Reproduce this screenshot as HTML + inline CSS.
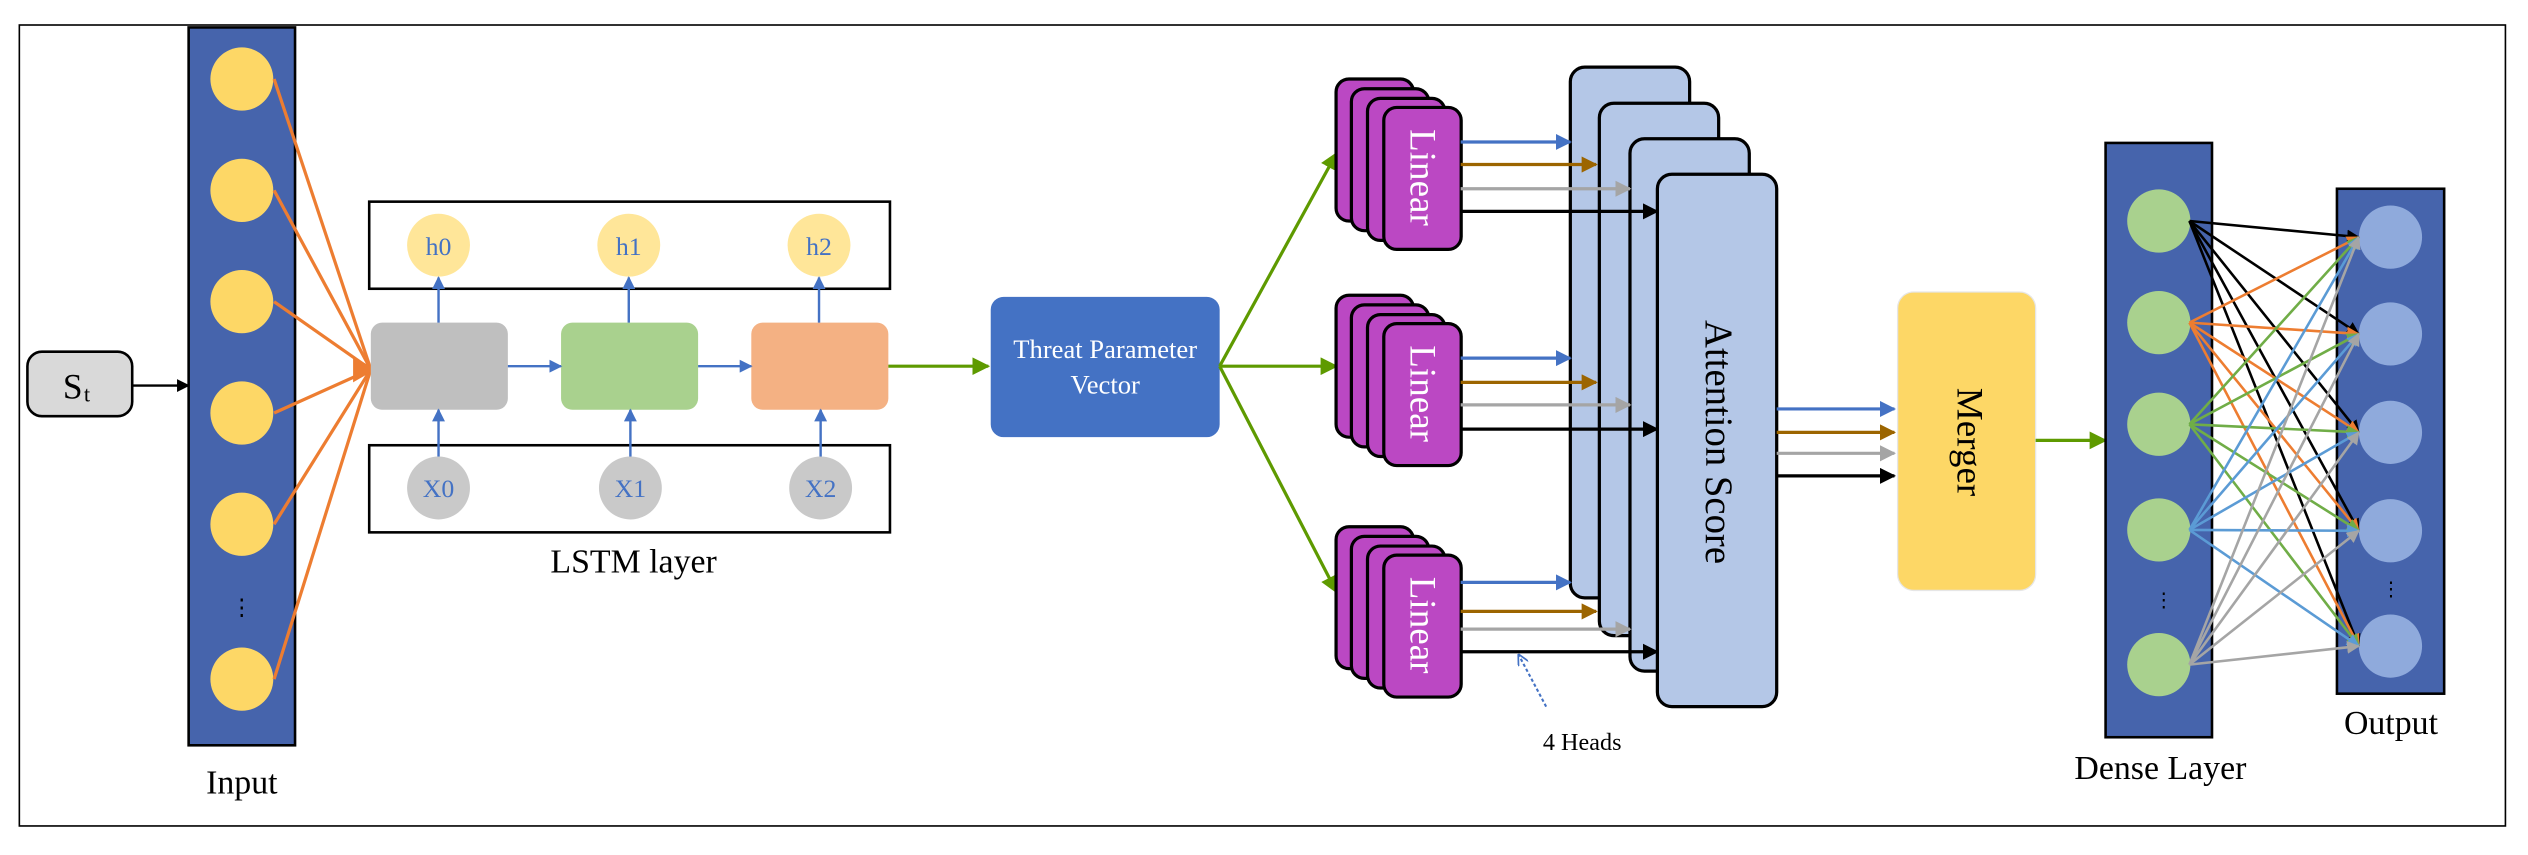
<!DOCTYPE html>
<html><head><meta charset="utf-8"><style>
html,body{margin:0;padding:0;background:#fff;}
svg{display:block;font-family:"Liberation Serif","Times New Roman",serif;}
svg text{font-family:"Liberation Serif","Times New Roman",serif;}
</style></head><body>
<svg width="2528" height="855" viewBox="0 0 1568 530" preserveAspectRatio="none" xmlns="http://www.w3.org/2000/svg" font-family="Liberation Serif, serif">
<defs>
<marker id="aBk" viewBox="0 0 10 10" refX="9" refY="5" markerWidth="10" markerHeight="10" orient="auto" markerUnits="userSpaceOnUse"><path d="M0,0L10,5L0,10z" fill="#000"/></marker>
<marker id="aBl" viewBox="0 0 10 10" refX="9" refY="5" markerWidth="10" markerHeight="10" orient="auto" markerUnits="userSpaceOnUse"><path d="M0,0L10,5L0,10z" fill="#4472c4"/></marker>
<marker id="aBr" viewBox="0 0 10 10" refX="9" refY="5" markerWidth="10" markerHeight="10" orient="auto" markerUnits="userSpaceOnUse"><path d="M0,0L10,5L0,10z" fill="#9c6500"/></marker>
<marker id="aGy" viewBox="0 0 10 10" refX="9" refY="5" markerWidth="10" markerHeight="10" orient="auto" markerUnits="userSpaceOnUse"><path d="M0,0L10,5L0,10z" fill="#a5a5a5"/></marker>
<marker id="aGn" viewBox="0 0 10 10" refX="9" refY="5" markerWidth="11" markerHeight="11" orient="auto" markerUnits="userSpaceOnUse"><path d="M0,0L10,5L0,10z" fill="#5e9a00"/></marker>
<marker id="sBk" viewBox="0 0 10 10" refX="9" refY="5" markerWidth="8" markerHeight="8" orient="auto" markerUnits="userSpaceOnUse"><path d="M0,0L10,5L0,10z" fill="#000"/></marker>
<marker id="sOr" viewBox="0 0 10 10" refX="9" refY="5" markerWidth="8" markerHeight="8" orient="auto" markerUnits="userSpaceOnUse"><path d="M0,0L10,5L0,10z" fill="#ed7d31"/></marker>
<marker id="sGn" viewBox="0 0 10 10" refX="9" refY="5" markerWidth="8" markerHeight="8" orient="auto" markerUnits="userSpaceOnUse"><path d="M0,0L10,5L0,10z" fill="#70ad47"/></marker>
<marker id="sBl" viewBox="0 0 10 10" refX="9" refY="5" markerWidth="8" markerHeight="8" orient="auto" markerUnits="userSpaceOnUse"><path d="M0,0L10,5L0,10z" fill="#5b9bd5"/></marker>
<marker id="sGy" viewBox="0 0 10 10" refX="9" refY="5" markerWidth="8" markerHeight="8" orient="auto" markerUnits="userSpaceOnUse"><path d="M0,0L10,5L0,10z" fill="#a5a5a5"/></marker>
<marker id="sLb" viewBox="0 0 10 10" refX="9" refY="5" markerWidth="8" markerHeight="8" orient="auto" markerUnits="userSpaceOnUse"><path d="M0,0L10,5L0,10z" fill="#4472c4"/></marker>
<marker id="dL" viewBox="0 0 10 10" refX="9" refY="5" markerWidth="7" markerHeight="7" orient="auto" markerUnits="userSpaceOnUse"><path d="M0,0L10,5L0,10" fill="none" stroke="#4472c4" stroke-width="1.5"/></marker>
</defs>

<rect x="12" y="15.5" width="1542" height="496.5" fill="none" stroke="#000" stroke-width="1"/>

<rect x="17" y="218" width="65" height="40" rx="9" fill="#d9d9d9" stroke="#000" stroke-width="1.6"/>
<text x="39" y="247" font-size="22">S</text><text x="52" y="249" font-size="14">t</text>
<line x1="82" y1="239" x2="117" y2="239" stroke="#000" stroke-width="1.5" marker-end="url(#sBk)"/>

<rect x="117" y="17" width="66" height="445" fill="#4664ac" stroke="#000" stroke-width="1.6"/>
<g fill="#fdd766">
<ellipse cx="150" cy="49" rx="19.5" ry="19.6"/>
<ellipse cx="150" cy="118" rx="19.5" ry="19.6"/>
<ellipse cx="150" cy="187" rx="19.5" ry="19.6"/>
<ellipse cx="150" cy="256" rx="19.5" ry="19.6"/>
<ellipse cx="150" cy="325" rx="19.5" ry="19.6"/>
<ellipse cx="150" cy="421" rx="19.5" ry="19.6"/>
</g>
<text x="150" y="381" font-size="14" text-anchor="middle" fill="#000">⋮</text>
<text x="150" y="492" font-size="21" text-anchor="middle">Input</text>
<g stroke="#ed7d31" stroke-width="2" fill="none">
<line x1="170" y1="49" x2="230" y2="229"/>
<line x1="170" y1="118" x2="230" y2="229"/>
<line x1="170" y1="187" x2="230" y2="229"/>
<line x1="170" y1="256" x2="230" y2="229"/>
<line x1="170" y1="325" x2="230" y2="229"/>
<line x1="170" y1="421" x2="230" y2="229"/>
</g>
<path d="M219,221 L233,229 L219,237z" fill="#ed7d31"/>

<rect x="229" y="125" width="323" height="54" fill="none" stroke="#000" stroke-width="1.6"/>
<rect x="229" y="276" width="323" height="54" fill="none" stroke="#000" stroke-width="1.6"/>
<g fill="#ffe699"><circle cx="272" cy="152" r="19.5"/><circle cx="390" cy="152" r="19.5"/><circle cx="508" cy="152" r="19.5"/></g>
<g fill="#c9c9c9"><circle cx="272" cy="302.5" r="19.5"/><circle cx="391" cy="302.5" r="19.5"/><circle cx="509" cy="302.5" r="19.5"/></g>
<g font-size="16" fill="#4472c4" text-anchor="middle">
<text x="272" y="158">h0</text><text x="390" y="158">h1</text><text x="508" y="158">h2</text>
<text x="272" y="308">X0</text><text x="391" y="308">X1</text><text x="509" y="308">X2</text>
</g>
<rect x="230" y="200" width="85" height="54" rx="7" fill="#bfbfbf"/>
<rect x="348" y="200" width="85" height="54" rx="7" fill="#a9d18e"/>
<rect x="466" y="200" width="85" height="54" rx="7" fill="#f4b183"/>
<g stroke="#4472c4" stroke-width="1.5" marker-end="url(#sLb)">
<line x1="272" y1="200" x2="272" y2="172"/><line x1="390" y1="200" x2="390" y2="172"/><line x1="508" y1="200" x2="508" y2="172"/>
<line x1="272" y1="283" x2="272" y2="254"/><line x1="391" y1="283" x2="391" y2="254"/><line x1="509" y1="283" x2="509" y2="254"/>
<line x1="315" y1="227" x2="348" y2="227"/><line x1="433" y1="227" x2="466" y2="227"/>
</g>
<text x="393" y="355" font-size="21" text-anchor="middle">LSTM layer</text>
<line x1="551" y1="227" x2="613" y2="227" stroke="#5e9a00" stroke-width="2" marker-end="url(#aGn)"/>

<rect x="614.5" y="184" width="142" height="87" rx="8" fill="#4472c4"/>
<text x="685.5" y="222" font-size="16.5" fill="#fff" text-anchor="middle">Threat Parameter</text>
<text x="685.5" y="244" font-size="16.5" fill="#fff" text-anchor="middle">Vector</text>
<g stroke="#5e9a00" stroke-width="2" marker-end="url(#aGn)">
<line x1="756.5" y1="227" x2="829" y2="95"/>
<line x1="756.5" y1="227" x2="829" y2="227"/>
<line x1="756.5" y1="227" x2="829" y2="367"/>
</g>

<g fill="#b4c7e7" stroke="#000" stroke-width="2">
<rect x="974" y="41.6" width="74" height="329" rx="9"/>
<rect x="992" y="64" width="74" height="330" rx="9"/>
<rect x="1011" y="86" width="74" height="330" rx="9"/>
<rect x="1028" y="108" width="74" height="330" rx="9"/>
</g>
<text transform="translate(1058,274) rotate(90)" font-size="24" text-anchor="middle">Attention Score</text>

<g id="lin">
<g fill="#bb48c3" stroke="#000" stroke-width="2">
<rect x="828.7" y="49" width="48" height="88" rx="8"/>
<rect x="838.2" y="55" width="48" height="88" rx="8"/>
<rect x="848.2" y="61" width="48" height="88" rx="8"/>
<rect x="858.3" y="66.6" width="48" height="88" rx="8"/>
</g>
<text transform="translate(875,110) rotate(90)" font-size="23" fill="#fff" text-anchor="middle">Linear</text>
</g>
<use href="#lin" transform="translate(0,134)"/>
<use href="#lin" transform="translate(0,277.5)"/>

<g stroke-width="2">
<line x1="906" y1="88" x2="974" y2="88" stroke="#4472c4" marker-end="url(#aBl)"/>
<line x1="906" y1="102" x2="990" y2="102" stroke="#9c6500" marker-end="url(#aBr)"/>
<line x1="906" y1="117" x2="1011" y2="117" stroke="#a5a5a5" marker-end="url(#aGy)"/>
<line x1="906" y1="131" x2="1028" y2="131" stroke="#000" marker-end="url(#aBk)"/>
<line x1="906" y1="222" x2="974" y2="222" stroke="#4472c4" marker-end="url(#aBl)"/>
<line x1="906" y1="237" x2="990" y2="237" stroke="#9c6500" marker-end="url(#aBr)"/>
<line x1="906" y1="251" x2="1011" y2="251" stroke="#a5a5a5" marker-end="url(#aGy)"/>
<line x1="906" y1="266" x2="1028" y2="266" stroke="#000" marker-end="url(#aBk)"/>
<line x1="906" y1="361" x2="974" y2="361" stroke="#4472c4" marker-end="url(#aBl)"/>
<line x1="906" y1="379" x2="990" y2="379" stroke="#9c6500" marker-end="url(#aBr)"/>
<line x1="906" y1="390" x2="1011" y2="390" stroke="#a5a5a5" marker-end="url(#aGy)"/>
<line x1="906" y1="404" x2="1028" y2="404" stroke="#000" marker-end="url(#aBk)"/>
</g>
<line x1="959" y1="438" x2="942" y2="406" stroke="#4472c4" stroke-width="1.3" stroke-dasharray="2,1.5" marker-end="url(#dL)"/>
<text x="957" y="465" font-size="15">4 Heads</text>

<g stroke-width="2">
<line x1="1102" y1="253.5" x2="1175" y2="253.5" stroke="#4472c4" marker-end="url(#aBl)"/>
<line x1="1102" y1="268" x2="1175" y2="268" stroke="#9c6500" marker-end="url(#aBr)"/>
<line x1="1102" y1="281" x2="1175" y2="281" stroke="#a5a5a5" marker-end="url(#aGy)"/>
<line x1="1102" y1="295" x2="1175" y2="295" stroke="#000" marker-end="url(#aBk)"/>
</g>
<rect x="1177" y="181" width="85.6" height="185" rx="10" fill="#fdd766" stroke="#e6e6e6" stroke-width="0.8"/>
<text transform="translate(1214,274) rotate(90)" font-size="23" text-anchor="middle">Merger</text>
<line x1="1262.6" y1="273" x2="1306" y2="273" stroke="#5e9a00" stroke-width="2" marker-end="url(#aGn)"/>

<rect x="1306" y="88.6" width="66" height="368.4" fill="#4664ac" stroke="#000" stroke-width="1.6"/>
<rect x="1449.5" y="117" width="66.5" height="313" fill="#4664ac" stroke="#000" stroke-width="1.6"/>
<g fill="#a9d18e">
<ellipse cx="1339" cy="137" rx="19.6" ry="19.6"/>
<ellipse cx="1339" cy="200" rx="19.6" ry="19.6"/>
<ellipse cx="1339" cy="263" rx="19.6" ry="19.6"/>
<ellipse cx="1339" cy="328.5" rx="19.6" ry="19.6"/>
<ellipse cx="1339" cy="412" rx="19.6" ry="19.6"/>
</g>
<g fill="#8faadc">
<ellipse cx="1482.7" cy="147" rx="19.6" ry="19.6"/>
<ellipse cx="1482.7" cy="207" rx="19.6" ry="19.6"/>
<ellipse cx="1482.7" cy="268" rx="19.6" ry="19.6"/>
<ellipse cx="1482.7" cy="329" rx="19.6" ry="19.6"/>
<ellipse cx="1482.7" cy="400.5" rx="19.6" ry="19.6"/>
</g>
<text x="1342" y="376" font-size="12" text-anchor="middle">⋮</text>
<text x="1483" y="369" font-size="12" text-anchor="middle">⋮</text>

<g stroke-width="1.6" fill="none">
<g stroke="#000" marker-end="url(#sBk)">
<line x1="1358" y1="137" x2="1463" y2="147"/><line x1="1358" y1="137" x2="1463" y2="207"/><line x1="1358" y1="137" x2="1463" y2="268"/><line x1="1358" y1="137" x2="1463" y2="329"/><line x1="1358" y1="137" x2="1463" y2="400.5"/>
</g>
<g stroke="#ed7d31" marker-end="url(#sOr)">
<line x1="1358" y1="200" x2="1463" y2="147"/><line x1="1358" y1="200" x2="1463" y2="207"/><line x1="1358" y1="200" x2="1463" y2="268"/><line x1="1358" y1="200" x2="1463" y2="329"/><line x1="1358" y1="200" x2="1463" y2="400.5"/>
</g>
<g stroke="#70ad47" marker-end="url(#sGn)">
<line x1="1358" y1="263" x2="1463" y2="147"/><line x1="1358" y1="263" x2="1463" y2="207"/><line x1="1358" y1="263" x2="1463" y2="268"/><line x1="1358" y1="263" x2="1463" y2="329"/><line x1="1358" y1="263" x2="1463" y2="400.5"/>
</g>
<g stroke="#5b9bd5" marker-end="url(#sBl)">
<line x1="1358" y1="328.5" x2="1463" y2="147"/><line x1="1358" y1="328.5" x2="1463" y2="207"/><line x1="1358" y1="328.5" x2="1463" y2="268"/><line x1="1358" y1="328.5" x2="1463" y2="329"/><line x1="1358" y1="328.5" x2="1463" y2="400.5"/>
</g>
<g stroke="#a5a5a5" marker-end="url(#sGy)">
<line x1="1358" y1="412" x2="1463" y2="147"/><line x1="1358" y1="412" x2="1463" y2="207"/><line x1="1358" y1="412" x2="1463" y2="268"/><line x1="1358" y1="412" x2="1463" y2="329"/><line x1="1358" y1="412" x2="1463" y2="400.5"/>
</g>
</g>
<text x="1340" y="483" font-size="21" text-anchor="middle">Dense Layer</text>
<text x="1483" y="455" font-size="21" text-anchor="middle">Output</text>
</svg>
</body></html>
